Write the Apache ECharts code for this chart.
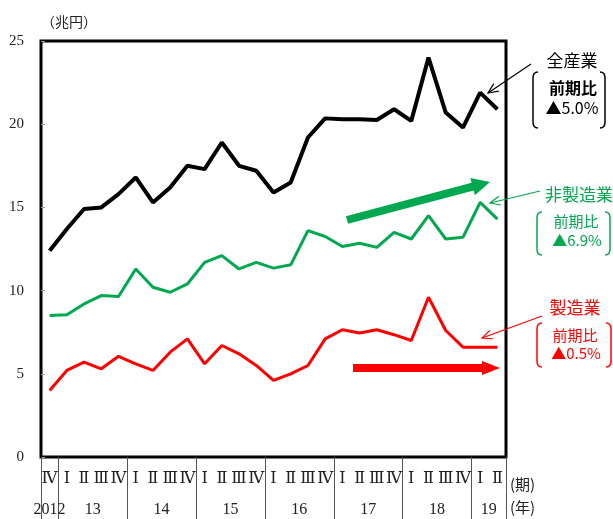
<!DOCTYPE html>
<html><head><meta charset="utf-8">
<script src="https://cdn.jsdelivr.net/npm/echarts@6/dist/echarts.min.js"></script>
<style>html,body{margin:0;padding:0;background:#fff}#c{width:613px;height:519px}</style>
</head><body><div id="c"></div>
<script>
const quarterLabels = ['Ⅳ','Ⅰ','Ⅱ','Ⅲ','Ⅳ','Ⅰ','Ⅱ','Ⅲ','Ⅳ','Ⅰ','Ⅱ','Ⅲ','Ⅳ','Ⅰ','Ⅱ','Ⅲ','Ⅳ','Ⅰ','Ⅱ','Ⅲ','Ⅳ','Ⅰ','Ⅱ','Ⅲ','Ⅳ','Ⅰ','Ⅱ'];
const yearLabels = ['2012','13','14','15','16','17','18','19'];
const yearQuarterCounts = [1,4,4,4,4,4,4,2];
const allIndustries = [12.4,13.7,14.9,15.0,15.8,16.8,15.3,16.2,17.5,17.3,18.9,17.5,17.2,15.9,16.5,19.2,20.35,20.3,20.3,20.25,20.9,20.2,24.0,20.7,19.8,21.9,20.9];
const nonManufacturing = [8.5,8.55,9.2,9.7,9.65,11.3,10.2,9.9,10.4,11.7,12.1,11.3,11.7,11.35,11.55,13.6,13.25,12.65,12.85,12.6,13.5,13.1,14.5,13.1,13.2,15.3,14.3];
const manufacturing = [4.0,5.2,5.7,5.3,6.05,5.6,5.2,6.3,7.1,5.6,6.7,6.2,5.5,4.6,5.0,5.5,7.1,7.65,7.45,7.65,7.35,7.0,9.6,7.6,6.6,6.6,6.6];
const yTicks = [0,5,10,15,20,25];

const GREEN = '#00a84f', RED = '#ff0000', BLACK = '#000000';
const JP = '"Noto Sans CJK JP", sans-serif';
const SERIF = '"Liberation Serif", "DejaVu Serif", serif';
const ROMAN = '"DejaVu Serif", "Liberation Serif", serif';

const boundaries = [0];
yearQuarterCounts.forEach(c => boundaries.push(boundaries[boundaries.length-1] + c));
const centers = yearQuarterCounts.map((c,i) => boundaries[i] + c/2);

function thinArrow(x1,y1,x2,y2,color){
  const a = Math.atan2(y2-y1, x2-x1), L = 11, w = 0.42;
  const p1 = [x2 - L*Math.cos(a-w), y2 - L*Math.sin(a-w)];
  const p2 = [x2 - L*Math.cos(a+w), y2 - L*Math.sin(a+w)];
  return [
    {type:'line', shape:{x1,y1,x2,y2}, style:{stroke:color, lineWidth:1.2}},
    {type:'polyline', shape:{points:[p1,[x2,y2],p2]}, style:{stroke:color, fill:null, lineWidth:1.2}}
  ];
}
function thickArrow(x1,y1,x2,y2,color,s,h,H){
  const dx=x2-x1, dy=y2-y1, len=Math.hypot(dx,dy);
  const ux=dx/len, uy=dy/len, nx=-uy, ny=ux;
  const bx=x2-ux*H, by=y2-uy*H;
  return {type:'polygon', shape:{points:[
    [x1+nx*s,y1+ny*s],[bx+nx*s,by+ny*s],[bx+nx*h,by+ny*h],[x2,y2],
    [bx-nx*h,by-ny*h],[bx-nx*s,by-ny*s],[x1-nx*s,y1-ny*s]]}, style:{fill:color}};
}
function halfBracket(x,dir,y1,y2,color){
  const r=6, st={stroke:color, fill:null, lineWidth:1.5};
  return [
    {type:'bezierCurve', shape:{x1:x+dir*5, y1:y1, cpx1:x, cpy1:y1, x2:x, y2:y1+r}, style:st},
    {type:'line', shape:{x1:x, y1:y1+r, x2:x, y2:y2-r}, style:st},
    {type:'bezierCurve', shape:{x1:x, y1:y2-r, cpx1:x, cpy1:y2, x2:x+dir*5, y2:y2}, style:st}
  ];
}
function bracket(xl,xr,y1,y2,color){
  return halfBracket(xl,1,y1,y2,color).concat(halfBracket(xr,-1,y1,y2,color));
}
function txt(t,x,y,size,color,bold){
  return {type:'text', style:{text:t, x, y, align:'center', verticalAlign:'middle', fill:color,
    font:(bold?'bold ':'')+size+'px '+JP}};
}

const graphics = [].concat(
  thinArrow(531,64,488,93,BLACK),
  thinArrow(540,191,490,203,GREEN),
  thinArrow(542,316,482,338,RED),
  [thickArrow(347,220,490,182,GREEN,4,9,18), thickArrow(353,368,500,368,RED,4,7,18)],
  bracket(533,605,72,128,BLACK),
  bracket(537,610,212,255,GREEN),
  bracket(537,611,323,367,RED),
  [
    txt('全産業',572,61,17,BLACK,false),
    txt('前期比',573,88,16,BLACK,true),
    txt('▲5.0%',572,108,16,BLACK,false),
    txt('非製造業',579,195,17,GREEN,false),
    txt('前期比',576,221,15,GREEN,false),
    txt('▲6.9%',577,240,15,GREEN,false),
    txt('製造業',575,308,17,RED,false),
    txt('前期比',575,335,15,RED,false),
    txt('▲0.5%',576,353,15,RED,false),
    {type:'text', style:{text:'(期)', x:510, y:484, align:'left', verticalAlign:'middle', fill:'#222', font:'15px '+JP}},
    {type:'text', style:{text:'(年)', x:510, y:507, align:'left', verticalAlign:'middle', fill:'#222', font:'15px '+JP}}
  ]
);

const chart = echarts.init(document.getElementById('c'), null, {renderer:'canvas'});
chart.setOption({
  animation:false,
  backgroundColor:'#fff',
  grid:{left:41, right:107, top:41, bottom:62, show:true, borderColor:'#000', borderWidth:3, containLabel:false},
  xAxis:[
    {type:'category', data:quarterLabels, boundaryGap:true,
     axisLine:{show:false}, axisTick:{show:false}, splitLine:{show:false},
     axisLabel:{interval:0, margin:14, fontFamily:ROMAN, fontSize:16, color:'#222'}},
    {type:'value', min:0, max:boundaries[boundaries.length-1], position:'bottom',
     axisLine:{show:false}, splitLine:{show:false},
     axisTick:{show:true, length:62, customValues:boundaries, lineStyle:{color:'#555', width:1}},
     axisLabel:{customValues:centers, margin:45, fontFamily:SERIF, fontSize:16, color:'#222',
       formatter:v => { const i = centers.findIndex(c => Math.abs(c-v)<1e-6); return i>=0 ? yearLabels[i] : ''; }}}
  ],
  yAxis:{type:'value', min:yTicks[0], max:yTicks[yTicks.length-1], interval:5,
    name:'（兆円）', nameLocation:'end', nameGap:12,
    nameTextStyle:{align:'left', fontFamily:JP, fontSize:14, color:'#222'},
    axisLine:{show:false}, splitLine:{show:false},
    axisTick:{show:true, inside:true, length:4, lineStyle:{color:'#999'}},
    axisLabel:{margin:17, fontFamily:SERIF, fontSize:15, color:'#222'}},
  series:[
    {name:'全産業', type:'line', xAxisIndex:0, data:allIndustries, symbol:'none', lineStyle:{color:BLACK, width:4}, z:3},
    {name:'非製造業', type:'line', xAxisIndex:0, data:nonManufacturing, symbol:'none', lineStyle:{color:GREEN, width:3}, z:2},
    {name:'製造業', type:'line', xAxisIndex:0, data:manufacturing, symbol:'none', lineStyle:{color:RED, width:3}, z:2}
  ],
  graphic:graphics
});
</script></body></html>
